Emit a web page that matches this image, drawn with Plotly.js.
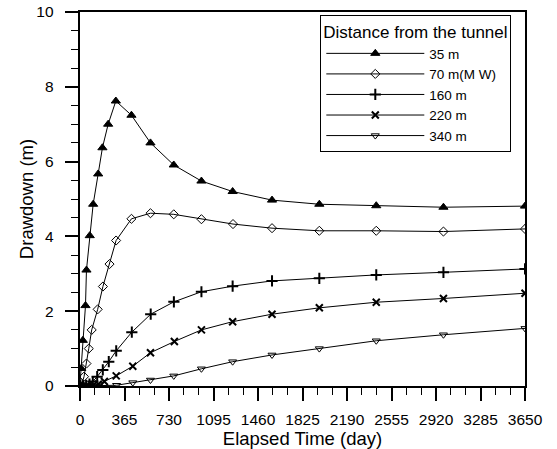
<!DOCTYPE html>
<html><head><meta charset="utf-8">
<script src="https://cdn.plot.ly/plotly-3.0.1.min.js"></script>
<style>body{margin:0;background:#fff}</style>
</head><body><div id="chart" style="width:557px;height:449px"></div>
<script>
// Elapsed time (day) and drawdown (m) for each distance from the tunnel
const t35 = [0, 10, 23, 45, 53, 80, 108, 149, 184, 231, 294, 422, 578, 769, 996, 1252, 1575, 1963, 2430, 2981, 3650];
const d35 = [0.05, 0.47, 1.22, 2.15, 3.1, 4.02, 4.86, 5.67, 6.37, 7.0, 7.62, 7.24, 6.5, 5.91, 5.48, 5.2, 4.97, 4.86, 4.82, 4.78, 4.81];

const t70 = [0, 15, 33, 53, 72, 96, 145, 188, 242, 296, 422, 578, 769, 996, 1255, 1575, 1963, 2430, 2981, 3650];
const d70 = [0, 0.05, 0.25, 0.6, 1.0, 1.5, 2.05, 2.66, 3.26, 3.89, 4.47, 4.62, 4.59, 4.46, 4.33, 4.22, 4.15, 4.15, 4.13, 4.2];

const t160 = [0, 25, 50, 78, 105, 141, 187, 236, 297, 425, 580, 770, 996, 1252, 1575, 1963, 2430, 2981, 3650];
const d160 = [0, 0, 0.02, 0.05, 0.12, 0.25, 0.43, 0.65, 0.94, 1.44, 1.92, 2.25, 2.52, 2.67, 2.81, 2.88, 2.97, 3.04, 3.13];

const t220 = [0, 50, 105, 150, 200, 297, 433, 578, 774, 996, 1252, 1575, 1963, 2430, 2981, 3650];
const d220 = [0, 0, 0.01, 0.05, 0.12, 0.27, 0.53, 0.89, 1.19, 1.5, 1.72, 1.92, 2.09, 2.24, 2.34, 2.48];

const t340 = [0, 150, 300, 433, 578, 769, 996, 1252, 1575, 1963, 2430, 2981, 3650];
const d340 = [0, 0, 0.02, 0.09, 0.16, 0.27, 0.46, 0.65, 0.83, 1.0, 1.21, 1.37, 1.54];

const seriesNames = ['35 m', '70 m(M W)', '160 m', '220 m', '340 m'];

const FONT = 'Liberation Sans, Arial, Helvetica, sans-serif';
const symbols = ['triangle-up', 'diamond-open', 'cross-thin', 'x-thin', 'triangle-down-open'];
const sizes = [8, 7, 8, 7, 7];
const xs = [t35, t70, t160, t220, t340];
const ys = [d35, d70, d160, d220, d340];

const traces = seriesNames.map((n, i) => ({
  x: xs[i], y: ys[i], name: n, type: 'scatter', mode: 'lines+markers',
  line: {color: '#000', width: 1},
  marker: {symbol: symbols[i], size: sizes[i], color: '#000',
           line: {color: '#000', width: (i === 2 || i === 3) ? 2 : 1}}
}));

const layout = {
  width: 557, height: 449,
  margin: {l: 80, r: 32, t: 12, b: 63},
  paper_bgcolor: '#fff', plot_bgcolor: '#fff',
  font: {family: FONT, color: '#000', size: 14},
  showlegend: true,
  legend: {
    x: 0.54, y: 0.992, xanchor: 'left', yanchor: 'top',
    bgcolor: '#fff', bordercolor: '#000', borderwidth: 1,
    font: {family: FONT, size: 13.5, color: '#000'},
    title: {text: 'Distance from the tunnel', font: {family: FONT, size: 17, color: '#000'}},
    tracegroupgap: 0, itemwidth: 98
  },
  xaxis: {
    range: [0, 3650], tick0: 0, dtick: 365,
    showgrid: false, zeroline: false,
    showline: true, linecolor: 'black', linewidth: 1.5, mirror: true,
    ticks: 'outside', ticklen: 13, tickwidth: 1.5, tickcolor: 'black',
    minor: {dtick: 365 / 3, ticks: 'outside', ticklen: 7, tickwidth: 1.2, tickcolor: 'black'},
    tickfont: {family: FONT, size: 15.5, color: '#000'},
    ticklabelstandoff: 6,
    title: {text: 'Elapsed Time (day)', font: {family: FONT, size: 18.5, color: '#000'}, standoff: 2}
  },
  yaxis: {
    range: [0, 10], tick0: 0, dtick: 2,
    showgrid: false, zeroline: false,
    showline: true, linecolor: 'black', linewidth: 1.5, mirror: true,
    ticks: 'outside', ticklen: 13, tickwidth: 1.5, tickcolor: 'black',
    minor: {dtick: 0.5, ticks: 'outside', ticklen: 7, tickwidth: 1.2, tickcolor: 'black'},
    tickfont: {family: FONT, size: 15.5, color: '#000'},
    ticksuffix: '\u00a0\u00a0',
    title: {text: 'Drawdown (m)', font: {family: FONT, size: 18.5, color: '#000'}}
  }
};

Plotly.newPlot('chart', traces, layout, {displayModeBar: false});
</script>
</body></html>
